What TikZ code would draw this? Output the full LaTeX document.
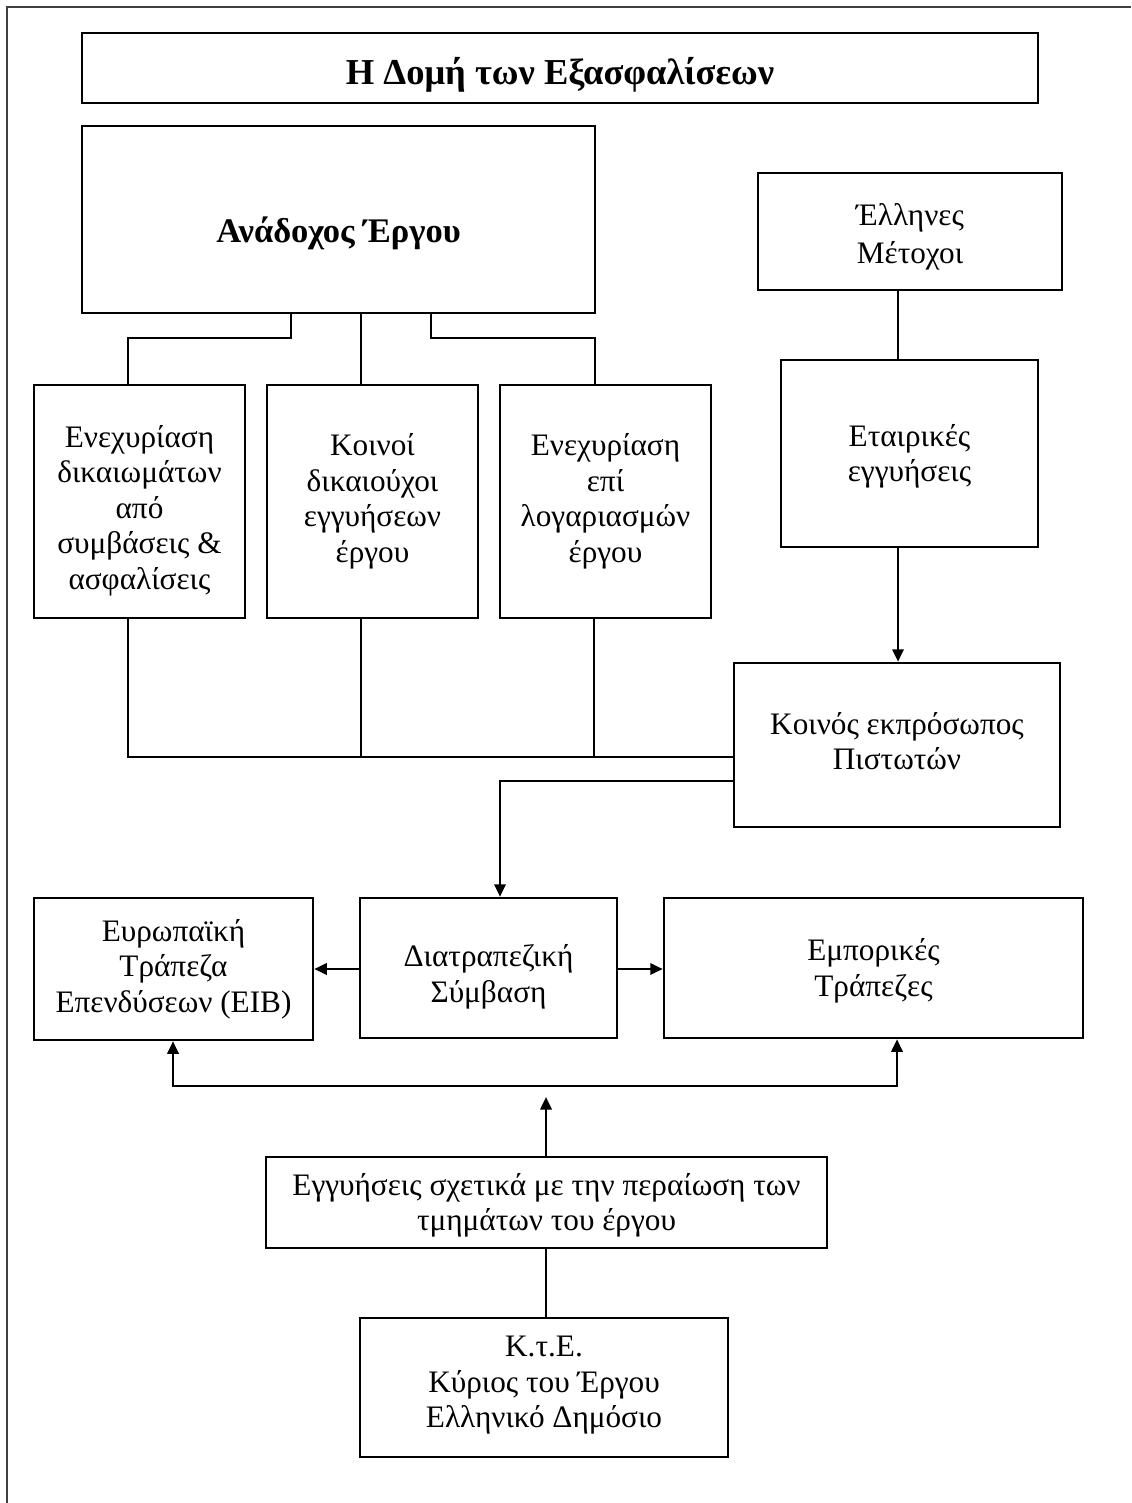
\documentclass[tikz,border=0pt]{standalone}
\usepackage{fontspec}
\setmainfont{Liberation Serif}
\usetikzlibrary{arrows.meta,calc}
\begin{document}
\begin{tikzpicture}[x=0.4pt,y=-0.4pt,
  box/.style 2 args={draw, line width=1pt, inner sep=0pt,
    minimum width=#1*0.4pt, minimum height=#2*0.4pt},
  txt/.style={align=center, inner sep=0pt, font=\fontsize{12.5}{14.2}\selectfont},
  titletext/.style={align=center, inner sep=0pt, font=\fontsize{14.6}{16}\selectfont\bfseries},
  bigtext/.style={align=center, inner sep=0pt, font=\fontsize{13.8}{16}\selectfont\bfseries},
  conn/.style={line width=1pt},
  arr/.style={line width=1pt, -{Triangle[length=5pt,width=4.5pt]}},
  frame/.style={line width=0.8pt, black!75}]
\useasboundingbox (0,0) rectangle (1131,1503);
\draw[frame] (7,1503) -- (7,7) -- (1131,7);

% boxes
\node[box={956}{70}] (title) at (560,68) {};
\node[box={513}{187}] (anad) at (338.5,219.5) {};
\node[box={304}{117}] (ellines) at (910,231.5) {};
\node[box={257}{187}] (etair) at (909.5,453.5) {};
\node[box={211}{233}] (b1) at (139.5,501.5) {};
\node[box={211}{233}] (b2) at (372.5,501.5) {};
\node[box={211}{233}] (b3) at (605.5,501.5) {};
\node[box={326}{164}] (koinos) at (897,745) {};
\node[box={279}{142}] (eib) at (173.5,969) {};
\node[box={257}{140}] (diatr) at (488.5,968) {};
\node[box={419}{140}] (empor) at (873.5,968) {};
\node[box={561}{91}] (eggy) at (546.5,1202.5) {};
\node[box={368}{139}] (kte) at (544,1387.5) {};

% texts
\node[titletext] (titlet) at ([yshift=-2.8pt]title.center) {Η Δομή των Εξασφαλίσεων};
\node[bigtext] (anadt) at ([yshift=-5.6pt]anad.center) {Ανάδοχος Έργου};
\node[txt] (ellinest) at ([yshift=-2pt]ellines.center) {Έλληνες\\[1pt]Μέτοχοι};
\node[txt] (etairt) at ([yshift=-1.2pt]etair.center) {Εταιρικές\\εγγυήσεις};
\node[txt] (b1t) at ([yshift=-3.6pt]b1.center) {Ενεχυρίαση\\δικαιωμάτων\\από\\συμβάσεις \&\\ασφαλίσεις};
\node[txt] (b2t) at (b2.center) {Κοινοί\\δικαιούχοι\\εγγυήσεων\\έργου};
\node[txt] (b3t) at (b3.center) {Ενεχυρίαση\\επί\\λογαριασμών\\έργου};
\node[txt] (koinost) at ([yshift=1.6pt]koinos.center) {Κοινός εκπρόσωπος\\Πιστωτών};
\node[txt] (eibt) at (eib.center) {Ευρωπαϊκή\\Τράπεζα\\Επενδύσεων (ΕΙΒ)};
\node[txt] (diatrt) at ([yshift=-3.6pt]diatr.center) {Διατραπεζική\\Σύμβαση};
\node[txt] (emport) at ([yshift=-1.2pt]empor.center) {Εμπορικές\\Τράπεζες};
\node[txt] (eggyt) at ([yshift=-1.2pt]eggy.center) {Εγγυήσεις σχετικά με την περαίωση των\\τμημάτων του έργου};
\node[txt] (ktet) at ([yshift=0.8pt]kte.center) {Κ.τ.Ε.\\Κύριος του Έργου\\Ελληνικό Δημόσιο};

\coordinate (tip) at (546,1097);

% from contractor to the three security boxes
\draw[conn] (291,0 |- anad.south) |- (128,338) -- (128,0 |- b1.north);
\draw[conn] (361,0 |- anad.south) -- (361,0 |- b2.north);
\draw[conn] (431,0 |- anad.south) |- (595,338) -- (595,0 |- b3.north);

% shareholders
\draw[conn] (898,0 |- ellines.south) -- (898,0 |- etair.north);
\draw[arr] (898,0 |- etair.south) -- (898,0 |- koinos.north);

% three boxes to common representative
\draw[conn] (128,0 |- b1.south) |- (koinos.west |- 0,757);
\draw[conn] (361,0 |- b2.south) -- (361,757);
\draw[conn] (594,0 |- b3.south) -- (594,757);

% representative to intercreditor agreement
\draw[arr] (koinos.west |- 0,781) -| (500,0 |- diatr.north);
\draw[arr] (diatr.west |- 0,969) -- (eib.east |- 0,969);
\draw[arr] (diatr.east |- 0,969) -- (empor.west |- 0,969);

% bottom loop
\draw[conn, {Triangle[length=5pt,width=4.5pt]}-{Triangle[length=5pt,width=4.5pt]}]
  (173,0 |- eib.south) -- (173,1086) -- (897,1086) -- (897,0 |- empor.south);
\draw[arr] (546,0 |- eggy.north) -- (tip);
\draw[conn] (546,0 |- kte.north) -- (546,0 |- eggy.south);
\end{tikzpicture}
\end{document}
